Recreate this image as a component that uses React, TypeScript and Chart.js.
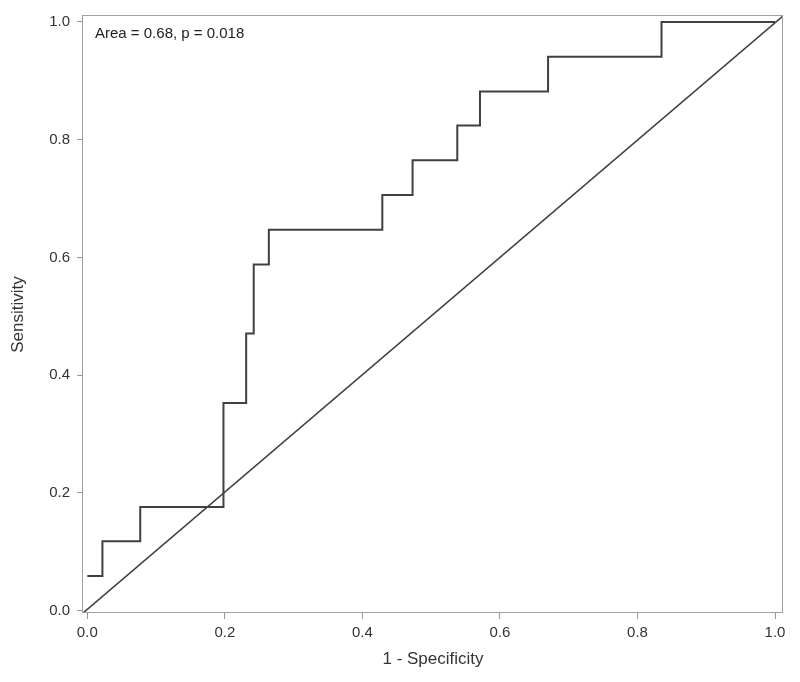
import React, { useEffect, useRef } from "react";
import { Chart, registerables } from "chart.js";

Chart.register(...registerables);

// 1 - Specificity at each step of the ROC curve
const fprValues = [0.0, 0.022, 0.077, 0.198, 0.231, 0.242, 0.264, 0.429, 0.473, 0.538, 0.571, 0.670, 0.835, 1.0];
// Sensitivity at each step
const tprValues = [0.059, 0.118, 0.176, 0.353, 0.471, 0.588, 0.647, 0.706, 0.765, 0.824, 0.882, 0.941, 1.0, 1.0];
// Axis ranges
const xRange = [-0.00625, 1.01163];
const yRange = [-0.00389, 1.0101];
// Reference (chance) line, corner to corner of the plot frame
const diagX = [xRange[0], xRange[1]];
const diagY = [yRange[0], yRange[1]];
const tickValues = [0.0, 0.2, 0.4, 0.6, 0.8, 1.0];
const annotationText = "Area = 0.68, p = 0.018";
const xTitle = "1 - Specificity";
const yTitle = "Sensitivity";

const FONT = "'Liberation Sans', Arial, sans-serif";

const framePlugin = {
  id: "frameAndNote",
  afterDraw(chart: any) {
    const { ctx, chartArea } = chart;
    ctx.save();
    ctx.strokeStyle = "#a0a0a0";
    ctx.lineWidth = 1;
    ctx.strokeRect(chartArea.left - 0.5, chartArea.top - 0.5, chartArea.right - chartArea.left, chartArea.bottom - chartArea.top);
    ctx.fillStyle = "#222";
    ctx.font = `15px ${FONT}`;
    ctx.textBaseline = "alphabetic";
    ctx.textAlign = "left";
    ctx.fillText(annotationText, chartArea.left + 12, chartArea.top + 21.5);
    ctx.restore();
  },
};

export default function App() {
  const ref = useRef<HTMLCanvasElement | null>(null);
  useEffect(() => {
    if (!ref.current) return;
    const chart = new Chart(ref.current, {
      type: "line",
      data: {
        datasets: [
          {
            data: fprValues.map((x, i) => ({ x, y: tprValues[i] })),
            stepped: "before",
            borderColor: "#404040",
            borderWidth: 2,
            pointRadius: 0,
            fill: false,
          },
          {
            data: diagX.map((x, i) => ({ x, y: diagY[i] })),
            borderColor: "#404040",
            borderWidth: 1.6,
            pointRadius: 0,
            fill: false,
          },
        ],
      },
      plugins: [framePlugin],
      options: {
        animation: false,
        responsive: false,
        layout: { padding: { left: 0, top: 13, right: 17, bottom: 0 } },
        plugins: { legend: { display: false }, tooltip: { enabled: false } },
        scales: {
          x: {
            type: "linear",
            min: xRange[0],
            max: xRange[1],
            afterFit: (s: any) => { s.height = 69; },
            afterBuildTicks: (s: any) => { s.ticks = tickValues.map((v) => ({ value: v })); },
            ticks: {
              includeBounds: false,
              stepSize: 0.2,
              padding: 5,
              color: "#333",
              font: { family: FONT, size: 15 },
              callback: (v: any) => Number(v).toFixed(1),
              maxRotation: 0,
            },
            grid: { display: true, drawOnChartArea: false, drawTicks: true, tickLength: 6, color: "#999" },
            border: { display: false },
            title: { display: true, text: xTitle, color: "#333", font: { family: FONT, size: 17 }, padding: { top: 0, bottom: 12 } },
          },
          y: {
            type: "linear",
            min: yRange[0],
            max: yRange[1],
            afterFit: (s: any) => { s.width = 83; },
            afterBuildTicks: (s: any) => { s.ticks = tickValues.map((v) => ({ value: v })); },
            ticks: {
              includeBounds: false,
              stepSize: 0.2,
              padding: 7,
              color: "#333",
              font: { family: FONT, size: 15 },
              callback: (v: any) => Number(v).toFixed(1),
            },
            grid: { display: true, drawOnChartArea: false, drawTicks: true, tickLength: 6, color: "#999" },
            border: { display: false },
            title: { display: true, text: yTitle, color: "#333", font: { family: FONT, size: 17 }, padding: { top: 8, bottom: 0 } },
          },
        },
      },
    });
    return () => chart.destroy();
  }, []);
  return (
    <div style={{ position: "fixed", left: 0, top: 0, width: 800, height: 682, background: "#fff" }}>
      <canvas ref={ref} width={800} height={682} style={{ width: 800, height: 682, display: "block" }} />
    </div>
  );
}
